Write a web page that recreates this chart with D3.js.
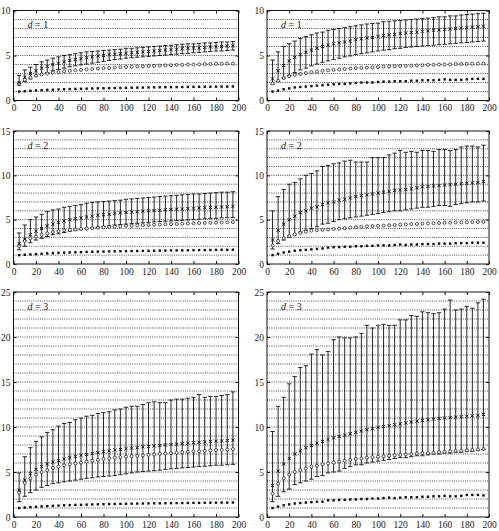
<!DOCTYPE html>
<html>
<head>
<meta charset="utf-8">
<script src="https://cdn.jsdelivr.net/npm/d3@7"></script>
<style>
  body { margin: 0; background: #fff; }
  svg { display: block; }
  .tick text { font-family: "Liberation Serif", "DejaVu Serif", serif; font-size: 9.5px; fill: #222; }
</style>
</head>
<body>
<div id="chart"></div>
<script>
// x positions shared by every panel
const xs = [5,10,15,20,25,30,35,40,45,50,55,60,65,70,75,80,85,90,95,100,105,110,115,120,125,130,135,140,145,150,155,160,165,170,175,180,185,190,195];
const xTicks = [0,20,40,60,80,100,120,140,160,180,200];

// d = 1, left
const p1Mean = [2.0,2.6,3.0,3.3,3.6,3.8,4.0,4.15,4.3,4.45,4.55,4.65,4.75,4.85,4.95,5.0,5.1,5.15,5.2,5.25,5.3,5.35,5.4,5.45,5.5,5.55,5.6,5.65,5.7,5.75,5.8,5.82,5.85,5.9,5.95,5.98,6.0,6.05,6.1];
const p1Hi   = [2.8,3.4,3.7,4.0,4.3,4.5,4.7,4.85,5.0,5.1,5.2,5.3,5.4,5.45,5.5,5.55,5.6,5.65,5.7,5.8,5.8,5.85,5.9,5.95,6.0,6.05,6.1,6.15,6.2,6.25,6.3,6.3,6.35,6.4,6.4,6.45,6.5,6.5,6.55];
const p1Lo   = [1.7,2.1,2.4,2.7,2.9,3.1,3.3,3.45,3.6,3.75,3.85,3.95,4.05,4.15,4.25,4.35,4.45,4.55,4.6,4.7,4.75,4.8,4.85,4.9,4.95,5.0,5.05,5.1,5.15,5.2,5.25,5.3,5.35,5.4,5.45,5.5,5.5,5.55,5.6];
const p1Circ = [1.9,2.3,2.55,2.75,2.9,3.0,3.1,3.15,3.25,3.3,3.35,3.4,3.45,3.5,3.55,3.6,3.6,3.65,3.7,3.72,3.75,3.78,3.8,3.83,3.85,3.88,3.9,3.92,3.95,3.97,4.0,4.0,4.02,4.05,4.05,4.07,4.08,4.1,4.1];
const p1Dot  = [1.0,1.03,1.08,1.12,1.15,1.18,1.2,1.23,1.25,1.27,1.29,1.3,1.32,1.33,1.35,1.36,1.37,1.38,1.4,1.41,1.42,1.43,1.44,1.45,1.46,1.47,1.48,1.48,1.49,1.5,1.51,1.51,1.52,1.53,1.53,1.54,1.55,1.55,1.56];

// d = 1, right
const p2Mean = [2.4,3.3,3.9,4.4,4.8,5.1,5.35,5.6,5.8,6.0,6.15,6.3,6.4,6.5,6.6,6.75,6.85,6.95,7.0,7.1,7.2,7.3,7.35,7.45,7.5,7.55,7.6,7.7,7.75,7.8,7.85,7.9,7.95,8.0,8.05,8.1,8.15,8.2,8.25];
const p2Hi   = [4.5,5.4,6.0,6.3,6.6,6.9,7.1,7.3,7.5,7.6,7.8,7.9,8.0,8.1,8.2,8.3,8.4,8.5,8.55,8.6,8.75,8.8,8.85,8.9,8.95,9.0,9.05,9.1,9.15,9.2,9.3,9.3,9.4,9.4,9.5,9.55,9.6,9.65,9.7];
const p2Lo   = [1.8,2.1,2.5,2.8,3.1,3.4,3.6,3.85,4.05,4.25,4.4,4.55,4.7,4.85,4.95,5.1,5.2,5.3,5.4,5.5,5.6,5.65,5.75,5.8,5.9,5.95,6.0,6.05,6.1,6.15,6.2,6.25,6.3,6.35,6.4,6.45,6.5,6.55,6.6];
const p2Circ = [1.9,2.2,2.5,2.7,2.85,2.95,3.05,3.15,3.2,3.3,3.35,3.4,3.45,3.5,3.55,3.6,3.62,3.65,3.7,3.72,3.75,3.78,3.8,3.83,3.85,3.88,3.9,3.92,3.95,3.97,4.0,4.0,4.02,4.05,4.05,4.07,4.08,4.1,4.1];
const p2Dot  = [1.0,1.1,1.25,1.35,1.45,1.5,1.55,1.6,1.65,1.7,1.75,1.8,1.85,1.85,1.9,1.95,2.0,2.0,2.0,2.05,2.1,2.1,2.15,2.15,2.15,2.2,2.2,2.25,2.25,2.25,2.3,2.35,2.3,2.3,2.3,2.35,2.4,2.4,2.4];

// d = 2, left
const p3Mean = [2.3,2.8,3.3,3.7,4.0,4.3,4.5,4.7,4.85,5.0,5.1,5.2,5.3,5.4,5.5,5.55,5.6,5.7,5.75,5.8,5.85,5.9,5.95,6.0,6.02,6.05,6.1,6.15,6.18,6.2,6.25,6.3,6.32,6.35,6.38,6.4,6.43,6.46,6.5];
const p3Hi   = [3.5,4.4,5.0,5.3,5.6,5.9,6.1,6.2,6.4,6.5,6.6,6.7,6.85,6.95,7.0,7.05,7.1,7.15,7.2,7.3,7.35,7.4,7.45,7.5,7.55,7.6,7.65,7.7,7.75,7.8,7.85,7.9,7.9,7.95,8.0,8.05,8.1,8.1,8.15];
const p3Lo   = [1.6,2.0,2.4,2.7,2.9,3.1,3.3,3.4,3.55,3.7,3.8,3.9,4.0,4.1,4.15,4.25,4.3,4.4,4.45,4.5,4.55,4.6,4.65,4.7,4.75,4.8,4.82,4.85,4.9,4.93,4.96,5.0,5.05,5.1,5.12,5.15,5.2,5.22,5.25];
const p3Circ = [2.0,2.6,2.9,3.1,3.3,3.45,3.6,3.7,3.8,3.85,3.9,3.95,4.0,4.05,4.1,4.15,4.18,4.2,4.25,4.3,4.32,4.35,4.38,4.4,4.42,4.45,4.48,4.5,4.52,4.55,4.58,4.6,4.62,4.63,4.65,4.67,4.68,4.7,4.72];
const p3Dot  = [1.0,1.04,1.08,1.12,1.16,1.2,1.23,1.26,1.28,1.3,1.32,1.34,1.36,1.38,1.39,1.4,1.42,1.43,1.44,1.45,1.46,1.47,1.48,1.49,1.5,1.51,1.52,1.53,1.54,1.54,1.55,1.56,1.57,1.57,1.58,1.59,1.6,1.6,1.61];

// d = 2, right
const p4Mean = [2.7,3.8,4.5,5.0,5.4,5.8,6.0,6.3,6.45,6.7,6.9,7.0,7.2,7.3,7.45,7.6,7.7,7.8,7.9,8.0,8.1,8.2,8.3,8.35,8.4,8.5,8.6,8.7,8.75,8.8,8.85,8.9,8.95,9.0,9.05,9.1,9.15,9.2,9.3];
const p4Hi   = [6.0,7.6,8.4,9.0,9.2,9.6,10.0,10.2,10.5,11.0,11.1,11.3,11.4,11.6,11.7,11.5,11.5,11.5,12.0,12.0,12.0,12.3,12.5,12.8,12.6,12.7,12.6,12.8,12.8,12.7,12.9,12.9,12.8,12.9,13.2,13.3,13.3,13.2,13.4];
const p4Lo   = [1.7,2.3,2.7,3.0,3.3,3.6,3.8,4.0,4.2,4.5,4.6,4.8,5.0,5.1,5.2,5.3,5.4,5.5,5.6,5.7,5.8,5.9,6.0,6.0,6.1,6.2,6.3,6.4,6.4,6.5,6.6,6.6,6.5,6.7,6.8,6.9,7.0,7.0,7.1];
const p4Circ = [2.1,2.6,2.9,3.15,3.35,3.5,3.65,3.75,3.8,3.85,3.9,3.95,4.0,4.05,4.1,4.15,4.2,4.25,4.28,4.3,4.33,4.37,4.4,4.45,4.47,4.5,4.52,4.55,4.58,4.6,4.62,4.65,4.66,4.68,4.7,4.7,4.72,4.74,4.75];
const p4Dot  = [1.0,1.15,1.3,1.4,1.5,1.55,1.6,1.65,1.7,1.75,1.85,1.9,1.9,1.95,1.95,2.0,2.0,2.05,2.05,2.1,2.1,2.1,2.15,2.2,2.15,2.2,2.2,2.25,2.25,2.25,2.3,2.3,2.3,2.35,2.35,2.35,2.4,2.4,2.4];

// d = 3, left
const p5Mean = [3.0,4.1,4.8,5.3,5.6,5.9,6.1,6.25,6.45,6.6,6.75,6.85,6.95,7.05,7.15,7.25,7.35,7.45,7.5,7.6,7.65,7.7,7.8,7.85,7.9,7.95,8.0,8.05,8.1,8.15,8.2,8.25,8.3,8.35,8.4,8.42,8.45,8.5,8.55];
const p5Hi   = [4.9,6.7,7.7,8.4,8.9,9.4,9.7,10.1,10.4,10.5,10.8,11.0,11.2,11.3,11.5,11.6,11.7,11.9,12.0,12.2,12.3,12.3,12.5,12.7,12.8,12.7,12.7,13.0,13.1,13.1,13.2,13.3,13.6,13.3,13.4,13.4,13.5,13.6,13.9];
const p5Lo   = [1.7,2.3,2.7,3.0,3.3,3.5,3.7,3.8,3.9,4.0,4.1,4.2,4.3,4.35,4.45,4.5,4.55,4.6,4.7,4.8,4.9,5.0,5.05,5.1,5.15,5.2,5.3,5.35,5.4,5.45,5.5,5.55,5.6,5.65,5.7,5.75,5.75,5.8,5.85];
const p5Circ = [2.7,3.8,4.3,4.7,5.0,5.2,5.45,5.6,5.75,5.85,5.95,6.05,6.15,6.25,6.35,6.45,6.5,6.6,6.65,6.7,6.75,6.8,6.85,6.9,6.95,7.0,7.05,7.1,7.15,7.2,7.25,7.3,7.3,7.35,7.4,7.45,7.45,7.5,7.55];
const p5Dot  = [1.0,1.05,1.1,1.14,1.18,1.21,1.24,1.27,1.3,1.32,1.34,1.36,1.38,1.4,1.41,1.42,1.44,1.45,1.46,1.47,1.48,1.49,1.5,1.51,1.52,1.52,1.53,1.54,1.55,1.55,1.56,1.57,1.57,1.58,1.59,1.59,1.6,1.6,1.61];

// d = 3, right
const p6Mean = [3.5,5.1,5.9,6.5,7.0,7.35,7.7,7.95,8.2,8.4,8.6,8.8,8.95,9.1,9.25,9.4,9.55,9.7,9.8,9.95,10.05,10.15,10.25,10.35,10.45,10.55,10.65,10.72,10.8,10.88,10.95,11.0,11.05,11.1,11.15,11.2,11.25,11.3,11.4];
const p6Hi   = [9.5,12.3,13.3,14.8,15.6,16.6,16.8,18.1,18.6,18.0,18.4,19.7,20.0,19.9,19.9,20.0,20.4,21.3,21.0,21.3,21.4,21.3,21.3,21.9,21.9,22.4,22.3,22.8,22.7,22.6,22.7,23.1,24.1,23.0,23.1,23.4,23.2,23.8,24.2];
const p6Lo   = [1.7,2.3,2.8,3.1,3.6,3.8,4.0,4.2,4.5,4.6,4.9,5.0,5.1,5.4,5.6,5.8,5.8,6.0,6.1,6.2,6.3,6.4,6.5,6.6,6.6,6.7,6.8,6.8,6.9,7.0,7.0,7.1,7.1,7.2,7.2,7.3,7.3,7.4,7.5];
const p6Circ = [2.6,3.7,4.3,4.7,5.0,5.2,5.4,5.6,5.7,5.85,5.95,6.05,6.15,6.25,6.35,6.45,6.5,6.6,6.65,6.7,6.75,6.8,6.85,6.9,6.95,7.0,7.05,7.1,7.1,7.15,7.2,7.25,7.3,7.35,7.35,7.4,7.45,7.5,7.55];
const p6Dot  = [1.0,1.15,1.3,1.4,1.5,1.55,1.6,1.65,1.7,1.7,1.85,1.85,1.9,1.9,1.95,1.95,2.0,2.0,2.05,2.05,2.1,2.15,2.1,2.15,2.2,2.2,2.2,2.25,2.25,2.3,2.3,2.35,2.3,2.3,2.35,2.45,2.45,2.45,2.4];

const W = 499, H = 531;
const cols = [[13.5, 238.5], [267, 489]];
const rows = [[10.5, 100.5, 10], [131, 264, 15], [292, 517, 25]];

const panels = [
    {col: 0, row: 0, d: 1, mean: p1Mean, hi: p1Hi, lo: p1Lo, circ: p1Circ, dot: p1Dot},
    {col: 1, row: 0, d: 1, mean: p2Mean, hi: p2Hi, lo: p2Lo, circ: p2Circ, dot: p2Dot},
    {col: 0, row: 1, d: 2, mean: p3Mean, hi: p3Hi, lo: p3Lo, circ: p3Circ, dot: p3Dot},
    {col: 1, row: 1, d: 2, mean: p4Mean, hi: p4Hi, lo: p4Lo, circ: p4Circ, dot: p4Dot},
    {col: 0, row: 2, d: 3, mean: p5Mean, hi: p5Hi, lo: p5Lo, circ: p5Circ, dot: p5Dot},
    {col: 1, row: 2, d: 3, mean: p6Mean, hi: p6Hi, lo: p6Lo, circ: p6Circ, dot: p6Dot}
];

const svg = d3.select("#chart")
    .append("svg")
    .attr("width", W)
    .attr("height", H);

function drawPanel(p) {
    const [x0, x1] = cols[p.col];
    const [y0, y1, ymax] = rows[p.row];

    const x = d3.scaleLinear().domain([0, 200]).range([x0, x1]);
    const y = d3.scaleLinear().domain([0, ymax]).range([y1, y0]);
    const yTicks = d3.range(0, ymax + 1, 5);

    const g = svg.append("g");

    // dotted grid at every integer
    g.append("g")
        .selectAll("line")
        .data(d3.range(1, ymax))
        .enter()
        .append("line")
        .attr("x1", x0).attr("x2", x1)
        .attr("y1", d => y(d)).attr("y2", d => y(d))
        .attr("stroke", "#222")
        .attr("stroke-width", 0.8)
        .attr("stroke-dasharray", "1,1.2");

    const rowsData = xs.map((v, i) => ({
        x: v, m: p.mean[i], hi: p.hi[i], lo: p.lo[i], c: p.circ[i], d: p.dot[i]
    }));

    // error bars
    const eb = g.append("g")
        .attr("stroke", "#111")
        .attr("stroke-width", 0.9);
    rowsData.forEach(d => {
        const cx = x(d.x);
        eb.append("line").attr("x1", cx).attr("x2", cx).attr("y1", y(d.lo)).attr("y2", y(d.hi));
        eb.append("line").attr("x1", cx - 2.2).attr("x2", cx + 2.2).attr("y1", y(d.lo)).attr("y2", y(d.lo));
        eb.append("line").attr("x1", cx - 2.2).attr("x2", cx + 2.2).attr("y1", y(d.hi)).attr("y2", y(d.hi));
    });

    // open circles
    g.append("g")
        .selectAll("circle")
        .data(rowsData)
        .enter()
        .append("circle")
        .attr("cx", d => x(d.x))
        .attr("cy", d => y(d.c))
        .attr("r", 1.5)
        .attr("fill", "#fff")
        .attr("stroke", "#222")
        .attr("stroke-width", 0.8);

    // x markers for the mean
    g.append("g")
        .selectAll("path")
        .data(rowsData)
        .enter()
        .append("path")
        .attr("d", d => {
            const cx = x(d.x), cy = y(d.m), s = 1.6;
            return `M${cx - s},${cy - s}L${cx + s},${cy + s}M${cx - s},${cy + s}L${cx + s},${cy - s}`;
        })
        .attr("stroke", "#111")
        .attr("stroke-width", 1);

    // filled dots
    g.append("g")
        .selectAll("rect")
        .data(rowsData)
        .enter()
        .append("rect")
        .attr("x", d => x(d.x) - 1.2)
        .attr("y", d => y(d.d) - 1.2)
        .attr("width", 2.4)
        .attr("height", 2.4)
        .attr("fill", "#111");

    // axes, ticks pointing inward
    g.append("g")
        .attr("transform", `translate(0,${y1})`)
        .call(d3.axisBottom(x).tickValues(xTicks).tickSizeInner(-3).tickSizeOuter(0).tickPadding(4))
        .call(a => a.select(".domain").remove());
    g.append("g")
        .attr("transform", `translate(0,${y0})`)
        .call(d3.axisTop(x).tickValues(xTicks).tickSizeInner(-3).tickSizeOuter(0).tickFormat(""))
        .call(a => a.select(".domain").remove());
    g.append("g")
        .attr("transform", `translate(${x0},0)`)
        .call(d3.axisLeft(y).tickValues(yTicks).tickSizeInner(-3).tickSizeOuter(0).tickPadding(3))
        .call(a => a.select(".domain").remove());
    g.append("g")
        .attr("transform", `translate(${x1},0)`)
        .call(d3.axisRight(y).tickValues(yTicks).tickSizeInner(-3).tickSizeOuter(0).tickFormat(""))
        .call(a => a.select(".domain").remove());
    g.selectAll(".tick line").attr("stroke", "#111");

    // frame
    g.append("rect")
        .attr("x", x0).attr("y", y0)
        .attr("width", x1 - x0).attr("height", y1 - y0)
        .attr("fill", "none")
        .attr("stroke", "#111")
        .attr("stroke-width", 1);

    // d = n label
    const t = g.append("text")
        .attr("x", x0 + 14)
        .attr("y", y0 + 17.5)
        .attr("font-family", "Liberation Serif, DejaVu Serif, serif")
        .attr("font-size", "10px")
        .attr("fill", "#222");
    t.append("tspan").attr("font-style", "italic").text("d");
    t.append("tspan").text(" = " + p.d);
}

panels.forEach(drawPanel);
</script>
</body>
</html>
